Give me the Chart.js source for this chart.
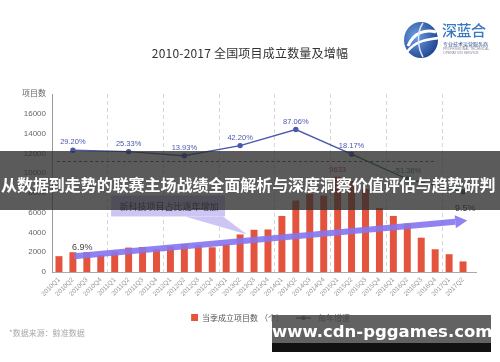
<!DOCTYPE html>
<html>
<head>
<meta charset="utf-8">
<script src="https://cdn.jsdelivr.net/npm/chart.js@4.4.1/dist/chart.umd.min.js"></script>
<style>
html,body{margin:0;padding:0;background:#fff;}
#wrap{position:relative;width:500px;height:362px;overflow:hidden;font-family:"Noto Sans CJK SC","Noto Sans",sans-serif;background:#fff;}
#c{position:absolute;left:0;top:0;}
.title{position:absolute;left:0;top:44px;width:500px;text-align:center;font-size:12px;color:#333;letter-spacing:0.2px;}
.logo-t1{position:absolute;left:442px;top:21px;font-size:15px;line-height:18px;color:#3a78c2;font-weight:500;letter-spacing:-0.5px;}
.logo-t2{position:absolute;left:443px;top:41px;font-size:5px;line-height:6px;color:#2c4a86;white-space:nowrap;}
.logo-t3{position:absolute;left:443px;top:47px;font-size:3.4px;line-height:4px;color:#889;white-space:nowrap;font-family:"Liberation Sans",sans-serif;}
.src{position:absolute;left:9px;top:327px;font-size:8px;color:#aaa;}
.band{position:absolute;left:0;top:151px;width:500px;height:59px;background:rgba(45,45,45,0.78);}
.band span{position:absolute;left:1px;top:22px;font-size:16px;line-height:22px;font-weight:bold;color:#fff;white-space:nowrap;letter-spacing:-0.05px;}
.wm{position:absolute;left:272px;top:315px;width:219px;height:28px;background:rgba(70,70,70,0.85);}
.wm2{position:absolute;left:272px;top:343px;width:219px;height:9px;background:#111;}
.wmt{position:absolute;left:272px;top:322px;width:219px;text-align:center;font-family:"DejaVu Sans",sans-serif;font-weight:bold;font-size:16.5px;line-height:20px;color:#fff;white-space:nowrap;}
</style>
</head>
<body>
<div id="wrap">
  <canvas id="c" width="500" height="362"></canvas>
  <div class="title">2010-2017 全国项目成立数量及增幅</div>
  <svg style="position:absolute;left:403px;top:21px" width="37" height="38" viewBox="0 0 37 38">
    <defs>
      <radialGradient id="lg" cx="35%" cy="40%" r="75%">
        <stop offset="0" stop-color="#6e9fe0"/>
        <stop offset="1" stop-color="#173b8a"/>
      </radialGradient>
    </defs>
    <ellipse cx="18" cy="19" rx="17" ry="18" fill="url(#lg)"/>
    <path d="M5 25 C 11 11, 23 8, 33 11" stroke="#fff" stroke-width="3" fill="none"/>
    <path d="M4 31 C 13 19, 25 19, 35 17" stroke="#fff" stroke-width="2.5" fill="none"/>
    <path d="M20 2 C 14 10, 14 26, 20 36" stroke="#dfe9f7" stroke-width="1.5" fill="none"/>
  </svg>
  <div class="logo-t1">深蓝合</div>
  <div class="logo-t2">专业技术运营服务商</div>
  <div class="logo-t3">PROFESSIONAL TECHNICAL<br>OPERATION SERVICE</div>
  <div class="src">*数据来源：鲸准数据</div>
  <div class="band"><span>从数据到走势的联赛主场战绩全面解析与深度洞察价值评估与趋势研判</span></div>
  <div class="wm"></div>
  <div class="wm2"></div>
  <div class="wmt">www.cdn-pggames.com</div>
</div>
<script>
// ---- data ----
const quarters = ['2010Q1','2010Q2','2010Q3','2010Q4','2011Q1','2011Q2','2011Q3','2011Q4',
  '2012Q1','2012Q2','2012Q3','2012Q4','2013Q1','2013Q2','2013Q3','2013Q4',
  '2014Q1','2014Q2','2014Q3','2014Q4','2015Q1','2015Q2','2015Q3','2015Q4',
  '2016Q1','2016Q2','2016Q3','2016Q4','2017Q1','2017Q2'];
const projectCounts = [1600,2000,2000,1700,2070,2470,2530,2330,
  2600,2830,2730,2500,2830,3800,4270,4300,
  5670,7230,7900,7730,9633,9200,8400,6470,
  5670,4900,3470,2300,1800,1070];
const growthYears = ['2010','2011','2012','2013','2014','2015','2016','2017'];
const yearlyGrowth = [29.20,25.33,13.93,42.20,87.06,18.17,-51.36,-86.5];
const growthLabels = ['29.20%','25.33%','13.93%','42.20%','87.06%','18.17%','-51.36%',''];
const yTickValues = [0,2000,4000,6000,8000,10000,12000,14000,16000,18000];
const yAxisTitle = '项目数';
const peakLabel = {index:20, text:'9633'};
const avgLevel = 11200;
const avgFrom = -0.15, avgTo = 27.1;
const trendStart = {index:1.1, value:1600, label:'6.9%'};
const trendEnd = {index:29.3, value:5200, label:'9.5%'};
const calloutTarget = {index:13.5, value:3800, text:'新科技项目占比逐年增加'};
const barLegend = '当季成立项目数 （个）';
const lineLegend = '每年增速';

// ---- styles ----
const barColor = '#e4533d';
const lineBlue = '#4a58ad';
const lineGreen = '#2f7a52';
const legendNavy = '#27377a';
const numFont = '"Liberation Sans","Noto Sans CJK SC",sans-serif';

// growth values placed at each year's Q2 category
const growthSeries = quarters.map((q,i) => (i % 4 === 1) ? yearlyGrowth[(i-1)/4] : null);
const growthText = quarters.map((q,i) => (i % 4 === 1) ? growthLabels[(i-1)/4] : null);
const greenFrom = 21;
const pointColors = quarters.map((q,i) => i >= 25 ? lineGreen : lineBlue);

function makeIcon(kind){
  const c = document.createElement('canvas');
  c.width = 18; c.height = 8;
  const g = c.getContext('2d');
  if (kind === 'bar') {
    g.fillStyle = barColor; g.fillRect(11,0,7,7);
  } else {
    g.strokeStyle = legendNavy; g.lineWidth = 1.5;
    g.beginPath(); g.moveTo(0,4); g.lineTo(15,4); g.stroke();
    g.fillStyle = legendNavy; g.beginPath(); g.arc(7.5,4,2.2,0,Math.PI*2); g.fill();
  }
  return c;
}
const iconBar = makeIcon('bar');
const iconLine = makeIcon('line');

const legendShift = 30;

const annot = {
  id:'annot',
  afterLayout(chart){
    const lg = chart.legend;
    if (lg) { lg.left += legendShift; lg.right += legendShift; }
  },
  afterDatasetsDraw(chart){
    const {ctx, chartArea, scales:{x, y}} = chart;
    ctx.save();
    // dashed reference line
    ctx.strokeStyle = '#555'; ctx.lineWidth = 1; ctx.setLineDash([3,2.5]);
    ctx.beginPath();
    const ya = Math.round(y.getPixelForValue(avgLevel)) + 0.5;
    ctx.moveTo(x.getPixelForValue(avgFrom), ya);
    ctx.lineTo(x.getPixelForValue(avgTo), ya);
    ctx.stroke();
    ctx.setLineDash([]);

    // trend arrow
    const x1 = x.getPixelForValue(trendStart.index), y1 = y.getPixelForValue(trendStart.value);
    const x2 = x.getPixelForValue(trendEnd.index), y2 = y.getPixelForValue(trendEnd.value);
    const ang = Math.atan2(y2-y1, x2-x1);
    const headLen = 12, headW = 6.5;
    const bx = x2 - headLen*Math.cos(ang), by = y2 - headLen*Math.sin(ang);
    ctx.strokeStyle = 'rgba(132,118,240,0.9)'; ctx.fillStyle = 'rgba(132,118,240,0.9)';
    ctx.lineWidth = 6; ctx.lineCap = 'butt';
    ctx.beginPath(); ctx.moveTo(x1,y1); ctx.lineTo(bx,by); ctx.stroke();
    ctx.beginPath();
    ctx.moveTo(x2,y2);
    ctx.lineTo(bx + headW*Math.sin(ang), by - headW*Math.cos(ang));
    ctx.lineTo(bx - headW*Math.sin(ang), by + headW*Math.cos(ang));
    ctx.closePath(); ctx.fill();

    ctx.fillStyle = '#444'; ctx.font = '9px ' + numFont; ctx.textAlign = 'center'; ctx.textBaseline = 'middle';
    ctx.fillText(trendStart.label, x1 + 8, y1 - 9);
    ctx.fillText(trendEnd.label, x2 - 2, y2 - 12);

    // callout
    const tx = x.getPixelForValue(calloutTarget.index), ty = y.getPixelForValue(calloutTarget.value);
    const bw = 114, bh = 21;
    const bl = tx - 136, bt = ty - 39;
    ctx.fillStyle = '#cdc6f5';
    ctx.fillRect(bl, bt, bw, bh);
    ctx.beginPath();
    ctx.moveTo(bl + bw - 40, bt + bh);
    ctx.lineTo(bl + bw - 2, bt + bh);
    ctx.lineTo(tx, ty);
    ctx.closePath(); ctx.fill();
    ctx.fillStyle = '#444'; ctx.font = '9px "Noto Sans CJK SC",sans-serif';
    ctx.fillText(calloutTarget.text, bl + bw/2 + 1, bt + bh/2 + 0.5);

    // peak label
    const pk = chart.getDatasetMeta(1).data[peakLabel.index];
    ctx.fillStyle = '#b8402e'; ctx.font = '7.5px ' + numFont;
    ctx.fillText(peakLabel.text, pk.x, pk.y - 7);

    // growth labels
    const meta = chart.getDatasetMeta(0);
    ctx.font = '7.5px ' + numFont;
    meta.data.forEach((pt, i) => {
      const t = growthText[i];
      if (!t) return;
      ctx.fillStyle = i >= 25 ? lineGreen : lineBlue;
      ctx.fillText(t, pt.x, pt.y - 8);
    });

    // axis line extension
    ctx.strokeStyle = '#aaa'; ctx.lineWidth = 1;
    ctx.beginPath();
    ctx.moveTo(chartArea.right, chartArea.bottom + 0.5);
    ctx.lineTo(chartArea.right + 7, chartArea.bottom + 0.5);
    ctx.stroke();
    ctx.restore();
  }
};

new Chart(document.getElementById('c'), {
  data: {
    labels: quarters,
    datasets: [
      {
        type:'line', label: lineLegend, data: growthSeries, yAxisID:'y2', order:0,
        spanGaps:true, borderColor: lineBlue, borderWidth:1.4, tension:0,
        pointRadius:2, pointBackgroundColor: pointColors, pointBorderColor: pointColors,
        segment:{ borderColor: c => c.p0DataIndex >= greenFrom ? lineGreen : lineBlue }
      },
      {
        type:'bar', label: barLegend, data: projectCounts, yAxisID:'y', order:1,
        backgroundColor: barColor, barPercentage:0.5, categoryPercentage:1
      }
    ]
  },
  options: {
    responsive:false, animation:false, devicePixelRatio:1,
    layout:{ padding:{ left:0, right:30, top:94, bottom:30 } },
    scales:{
      x:{
        offset:true,
        grid:{ offset:true, drawTicks:false, lineWidth:1,
          color: c => (c.index > 0 && c.index % 4 === 0) ? '#d6d6d6' : 'rgba(0,0,0,0)' },
        border:{ display:true, color:'#aaa', dash:[4,3] },
        ticks:{ autoSkip:false, minRotation:45, maxRotation:45, padding:4, color:'#999',
          font:{ size:6.5, family:numFont } },
        afterFit: s => { s.height = 30; }
      },
      y:{
        min:0, max:18000,
        afterBuildTicks: s => { s.ticks = yTickValues.map(v => ({value:v})); },
        ticks:{ padding:6, color:'#666', font:{ size:8, family:numFont },
          callback: v => v === 18000 ? yAxisTitle : String(v) },
        grid:{ display:false, drawTicks:false },
        border:{ display:true, color:'#999' },
        afterFit: s => { s.width = 52; }
      },
      y2:{ display:false, min:-310, max:186 }
    },
    plugins:{
      tooltip:{ enabled:false },
      legend:{
        position:'bottom',
        labels:{
          usePointStyle:true, pointStyleWidth:18, boxHeight:8, padding:12,
          color:'#555', font:{ size:8, family:'"Noto Sans CJK SC",sans-serif' },
          generateLabels: () => [
            { text: barLegend, pointStyle: iconBar, fillStyle:'rgba(0,0,0,0)', strokeStyle:'rgba(0,0,0,0)', lineWidth:0, hidden:false, datasetIndex:1, fontColor:'#555' },
            { text: lineLegend, pointStyle: iconLine, fillStyle:'rgba(0,0,0,0)', strokeStyle:'rgba(0,0,0,0)', lineWidth:0, hidden:false, datasetIndex:0, fontColor:'#555' }
          ]
        }
      }
    }
  },
  plugins:[annot]
});
</script>
</body>
</html>
